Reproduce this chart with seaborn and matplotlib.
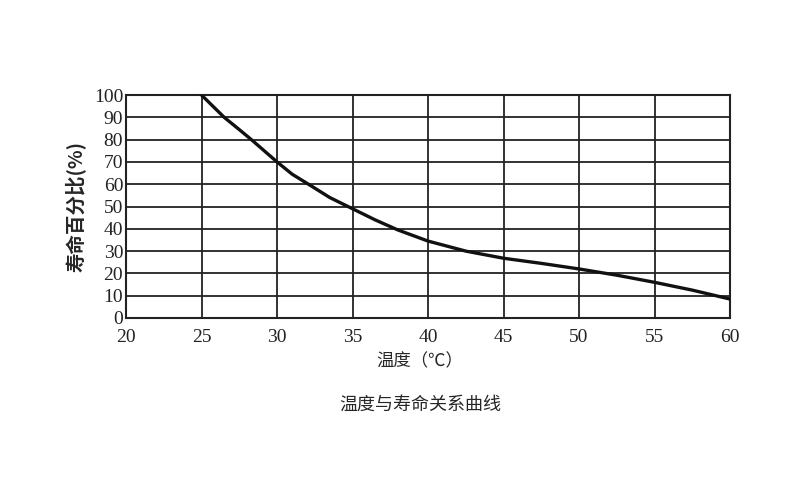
import pandas as pd
import seaborn as sns
import matplotlib.pyplot as plt

# values
temperature = [25, 26.5, 27.5, 28.3, 30, 31, 32.2, 33.5, 35, 36.5, 38, 40,
               42.5, 45, 47.5, 50, 52.5, 55, 57.5, 60]
life_percent = [100, 90, 84.5, 80, 70, 64.5, 59.5, 54, 49, 44, 39.5, 34.5,
                30, 26.8, 24.5, 22, 19.2, 16, 12.5, 8.5]

x_ticks = [20, 25, 30, 35, 40, 45, 50, 55, 60]
y_ticks = [0, 10, 20, 30, 40, 50, 60, 70, 80, 90, 100]


def main():
    sns.set_theme(style="white")
    plt.rcParams['font.family'] = ['Noto Sans CJK SC', 'DejaVu Sans']

    df = pd.DataFrame({'temp': temperature, 'life': life_percent})

    fig = plt.figure(figsize=(8, 5), dpi=100)
    ax = fig.add_axes([0.1575, 0.364, 0.755, 0.446])

    sns.lineplot(data=df, x='temp', y='life', ax=ax, color='#111111',
                 linewidth=2.4, solid_capstyle='round', zorder=3)

    ax.set_xlim(20, 60)
    ax.set_ylim(0, 100)
    ax.set_xticks(x_ticks)
    ax.set_yticks(y_ticks)
    ax.set_xticklabels([str(t) for t in x_ticks], family='Liberation Serif', fontsize=14)
    ax.set_yticklabels([str(t) for t in y_ticks], family='Liberation Serif', fontsize=14)
    ax.tick_params(axis='y', length=0, pad=2, colors='#222222')
    ax.tick_params(axis='x', length=0, pad=8, colors='#222222')

    ax.grid(True, color='#222222', linewidth=1.3)
    for s in ax.spines.values():
        s.set_visible(True)
        s.set_color('#222222')
        s.set_linewidth(1.5)

    ax.set_xlabel('')
    ax.set_ylabel('寿命百分比(%)', fontsize=14, fontweight='bold', labelpad=6)

    fig.text(0.525, 0.278, '温度（℃）', ha='center', va='center', fontsize=12.5,
             family=['Noto Sans CJK SC', 'DejaVu Sans'])
    fig.text(0.525, 0.19, '温度与寿命关系曲线', ha='center', va='center', fontsize=13,
             family=['Noto Sans CJK SC', 'DejaVu Sans'])

    fig.savefig('out.png', dpi=100)


if __name__ == "__main__":
    main()
